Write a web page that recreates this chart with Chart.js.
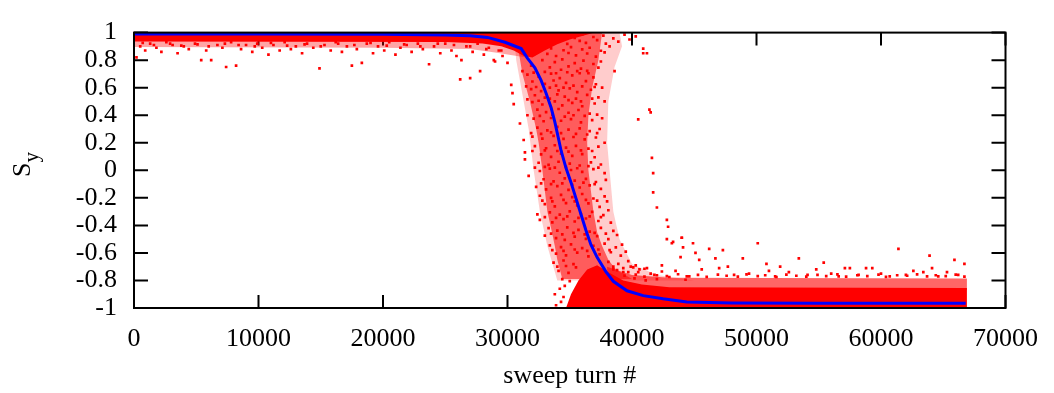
<!DOCTYPE html>
<html>
<head>
<meta charset="utf-8">
<script src="https://cdn.jsdelivr.net/npm/chart.js@4.4.0/dist/chart.umd.min.js"></script>
<style>
  html, body { margin: 0; padding: 0; background: #fff; }
</style>
</head>
<body>
<canvas id="sweepChart" width="1054" height="393"></canvas>
<script>
// --- Data (x values are in thousands of sweep turns) ---
const xTicks = [0, 10000, 20000, 30000, 40000, 50000, 60000, 70000];
const yTicks = [-1, -0.8, -0.6, -0.4, -0.2, 0, 0.2, 0.4, 0.6, 0.8, 1];

// averaged S_y (blue)
const meanX = [0, 10, 20, 25, 27, 28.4, 29.8, 31.1, 31.6, 32.2, 32.7, 33.1, 33.5, 33.8, 34.0, 34.3, 34.7,
    35.1, 35.5, 35.9, 36.3, 36.7, 37.2, 37.9, 38.5, 39.6, 40.9, 42.5, 44.4, 48, 55, 66.8];
const meanY = [0.99, 0.99, 0.988, 0.983, 0.977, 0.965, 0.93, 0.884, 0.815, 0.745, 0.653, 0.56, 0.456, 0.352, 0.27, 0.144, 0.016,
    -0.088, -0.204, -0.319, -0.435, -0.54, -0.632, -0.736, -0.806, -0.875, -0.91, -0.933, -0.956, -0.963, -0.965, -0.965];

// outlines of the regions where the red dots cover everything
const upperCore = [[0, 1], [37, 1], [36, 0.975], [35, 0.95], [34, 0.915], [33, 0.87], [32, 0.82], [31.3, 0.83],
    [30.5, 0.87], [29.5, 0.9], [28, 0.92], [25, 0.932], [0, 0.935]];
const lowerCore = [[34.7, -1], [35.1, -0.9], [35.7, -0.8], [36.4, -0.72], [37.2, -0.69], [38.1, -0.74], [39.3, -0.8],
    [40.8, -0.83], [43, -0.85], [66.9, -0.855], [66.9, -1]];

// outlines of the partly covered regions
const upperHaze = [[0, 0.94], [28, 0.94], [30, 0.9], [31.5, 0.82], [29, 0.855], [27, 0.88], [20, 0.89], [0, 0.895]];
const cloudOuter = [[30.6, 0.9], [33, 1], [39, 1], [39.2, 0.9], [38.6, 0.75], [38.1, 0.5], [38, 0.2], [38.2, 0],
    [38.5, -0.3], [39, -0.5], [40, -0.68], [42, -0.76], [45, -0.8], [34, -0.8], [33.2, -0.55], [32.6, -0.3],
    [32.1, 0], [31.7, 0.3], [31.2, 0.55], [30.7, 0.8]];
const cloudInner = [[30.9, 0.86], [33, 0.95], [35, 1], [37.6, 1], [37.3, 0.8], [36.8, 0.6], [36.5, 0.4], [36.4, 0.2],
    [36.5, 0], [36.7, -0.15], [36.9, -0.3], [37.2, -0.45], [37.6, -0.55], [38.1, -0.65], [38.7, -0.72], [40, -0.79],
    [34.4, -0.79], [34.0, -0.65], [33.8, -0.55], [33.5, -0.42], [33.2, -0.3], [33.0, -0.15], [32.8, 0], [32.5, 0.2],
    [32.3, 0.3], [32.0, 0.42], [31.8, 0.5], [31.5, 0.6], [31.2, 0.7]];
const lowerHaze = [[38, -0.7], [40, -0.76], [43, -0.78], [66.9, -0.785], [66.9, -0.87], [38, -0.87]];

// single S_y samples (red)
const upperDots = [[0.2, 0.82], [0.5, 0.9], [0.9, 0.87], [1.3, 0.92], [1.8, 0.89], [2.2, 0.86], [2.6, 0.93], [3.1, 0.91],
    [3.5, 0.85], [4.0, 0.9], [4.4, 0.88], [4.9, 0.92], [5.4, 0.8], [5.8, 0.87], [6.2, 0.8], [6.7, 0.91], [7.1, 0.89],
    [7.4, 0.75], [7.8, 0.93], [8.2, 0.76], [8.6, 0.88], [9.0, 0.91], [9.5, 0.86], [9.9, 0.92], [10.3, 0.89], [10.8, 0.84],
    [11.2, 0.91], [11.7, 0.87], [12.1, 0.93], [12.6, 0.88], [13.0, 0.9], [13.5, 0.85], [13.9, 0.92], [14.4, 0.89],
    [14.9, 0.74], [15.3, 0.91], [15.8, 0.87], [16.2, 0.93], [16.7, 0.86], [17.1, 0.9], [17.5, 0.76], [17.9, 0.88],
    [18.3, 0.78], [18.7, 0.92], [19.2, 0.85], [19.6, 0.9], [20.1, 0.87], [20.5, 0.93], [21.0, 0.84], [21.4, 0.89],
    [21.9, 0.91], [22.3, 0.86], [22.8, 0.92], [23.2, 0.88], [23.7, 0.77], [24.1, 0.9], [24.6, 0.85], [25.0, 0.92],
    [25.5, 0.87], [25.9, 0.83], [26.2, 0.66], [26.3, 0.8], [26.7, 0.9], [27.0, 0.67], [27.2, 0.86], [27.6, 0.92],
    [27.8, 0.72], [28.1, 0.84], [28.5, 0.89], [28.9, 0.8], [29.0, 0.79], [29.3, 0.87], [29.6, 0.83], [30.0, 0.78],
    [0.7, 0.925], [1.6, 0.91], [2.9, 0.92], [3.8, 0.905], [5.1, 0.915], [6.0, 0.9], [7.3, 0.92], [8.4, 0.91],
    [9.7, 0.9], [11.0, 0.925], [12.3, 0.905], [13.7, 0.915], [15.0, 0.9], [16.4, 0.92], [17.7, 0.91], [19.0, 0.925],
    [20.3, 0.905], [21.7, 0.915], [23.0, 0.9], [24.4, 0.92], [25.7, 0.91], [27.0, 0.9], [28.3, 0.88], [29.5, 0.87]];

const cloudDots = [
    [34.5, 0.975], [35.4, 0.962], [36.0, 0.985], [36.9, 0.968], [37.7, 0.978], [38.5, 0.958], [39.4, 0.985], [40.3, 0.972],
    [34.1, 0.935], [34.8, 0.918], [35.8, 0.94], [36.3, 0.925], [37.2, 0.945], [37.9, 0.92], [38.9, 0.935], [39.8, 0.95],
    [33.5, 0.885], [34.5, 0.872], [35.1, 0.895], [36.0, 0.878], [36.6, 0.89], [37.5, 0.868], [38.2, 0.9], [40.9, 0.884], [41.2, 0.85],
    [33.2, 0.845], [33.9, 0.83], [34.9, 0.852], [35.5, 0.835], [36.4, 0.848], [37.1, 0.826], [37.8, 0.856], [40.9, 0.85],
    [32.8, 0.8], [33.8, 0.785], [34.4, 0.805], [35.4, 0.778], [36.1, 0.796], [36.9, 0.772], [37.5, 0.79],
    [31.9, 0.76], [33.4, 0.748], [34.3, 0.73], [34.9, 0.755], [35.9, 0.738], [36.4, 0.722], [37.3, 0.745], [38.6, 0.72],
    [31.6, 0.695], [32.5, 0.68], [33.5, 0.702], [34.2, 0.67], [35.2, 0.69], [35.8, 0.705], [36.9, 0.675],
    [32.0, 0.645], [33.0, 0.628], [33.7, 0.652], [34.7, 0.635], [35.3, 0.615], [36.3, 0.648], [37.1, 0.625],
    [30.3, 0.62], [31.9, 0.59], [32.7, 0.575], [33.4, 0.6], [34.1, 0.58], [35.0, 0.595], [35.6, 0.568], [36.7, 0.585], [37.6, 0.6],
    [30.4, 0.56], [32.2, 0.545], [33.0, 0.528], [34.0, 0.552], [34.6, 0.535], [35.5, 0.52], [36.4, 0.548], [37.3, 0.53],
    [30.5, 0.48], [32.0, 0.495], [32.8, 0.478], [33.8, 0.5], [34.4, 0.472], [35.2, 0.49], [36.0, 0.465], [37.0, 0.485], [37.8, 0.5],
    [32.4, 0.44], [33.1, 0.422], [34.1, 0.445], [34.9, 0.418], [35.7, 0.438], [36.6, 0.412], [41.4, 0.44], [41.5, 0.42],
    [31.0, 0.34], [32.1, 0.375], [32.9, 0.356], [33.5, 0.38], [34.3, 0.36], [35.1, 0.372], [35.9, 0.348], [36.8, 0.365],
    [37.6, 0.378], [40.5, 0.37],
    [32.4, 0.31], [33.2, 0.29], [34.0, 0.315], [34.9, 0.295], [35.8, 0.305], [36.6, 0.285], [37.4, 0.3],
    [31.3, 0.22], [32.0, 0.245], [32.8, 0.23], [33.7, 0.25], [34.5, 0.228], [35.3, 0.242], [36.2, 0.225], [37.1, 0.238],
    [32.2, 0.175], [33.1, 0.16], [33.8, 0.182], [34.7, 0.165], [35.5, 0.178], [36.5, 0.158], [37.3, 0.172], [37.8, 0.2],
    [31.4, 0.13], [32.7, 0.115], [33.5, 0.098], [34.3, 0.12], [35.2, 0.105], [36.0, 0.118], [37.0, 0.095], [41.6, 0.09],
    [31.4, 0.08], [32.5, 0.055], [33.3, 0.04], [34.1, 0.062], [35.0, 0.048], [35.8, 0.035], [36.7, 0.058], [37.5, 0.042],
    [32.6, -0.005], [33.4, 0.012], [34.2, -0.018], [35.1, 0.002], [36.0, -0.012], [36.9, 0.008], [37.8, -0.02], [41.7, -0.02],
    [31.7, -0.04], [32.9, -0.065], [33.7, -0.08], [34.6, -0.058], [35.4, -0.075], [36.3, -0.062], [37.1, -0.085], [37.9, -0.07],
    [32.3, -0.12], [33.1, -0.138], [34.0, -0.115], [34.9, -0.142], [35.8, -0.125], [36.6, -0.11], [37.5, -0.135], [41.7, -0.16],
    [32.6, -0.185], [33.5, -0.2], [34.3, -0.178], [35.2, -0.195], [36.0, -0.172], [36.9, -0.205], [37.8, -0.19],
    [33.0, -0.245], [33.8, -0.262], [34.7, -0.238], [35.6, -0.255], [36.5, -0.24], [37.4, -0.265], [42.0, -0.27],
    [32.4, -0.32], [33.4, -0.305], [34.2, -0.322], [35.0, -0.298], [35.9, -0.318], [36.8, -0.302], [37.7, -0.325], [38.1, -0.29],
    [32.6, -0.36], [33.6, -0.378], [34.5, -0.355], [35.4, -0.372], [36.3, -0.35], [37.3, -0.368], [38.3, -0.38], [42.8, -0.36],
    [33.3, -0.42], [34.0, -0.438], [34.8, -0.415], [35.7, -0.432], [36.6, -0.445], [37.5, -0.418], [38.5, -0.44], [42.9, -0.41],
    [33.0, -0.475], [33.9, -0.492], [34.6, -0.505], [35.4, -0.482], [36.3, -0.498], [37.2, -0.478], [38.1, -0.5], [44.0, -0.49],
    [33.4, -0.545], [34.3, -0.558], [35.1, -0.538], [36.0, -0.565], [36.9, -0.548], [37.8, -0.532], [38.7, -0.56], [39.2, -0.54],
    [43.3, -0.52],
    [33.9, -0.605], [34.7, -0.618], [35.6, -0.598], [36.5, -0.625], [37.4, -0.61], [38.3, -0.595], [39.1, -0.62], [43.9, -0.63],
    [33.7, -0.67], [34.5, -0.655], [35.3, -0.682], [38.1, -0.665], [38.9, -0.68], [39.7, -0.66], [40.3, -0.69],
    [34.1, -0.73], [34.9, -0.745], [38.8, -0.725], [39.7, -0.74], [40.6, -0.72], [41.5, -0.75], [42.4, -0.735],
    [34.4, -0.79], [35.0, -0.805], [40.2, -0.785], [41.1, -0.8], [42.0, -0.79], [43.0, -0.775], [44.3, -0.795],
    [34.2, -0.86], [34.6, -0.84], [33.8, -0.9], [34.5, -0.92], [34.3, -0.955], [33.9, -0.98]];

const cloudDotsDense = [
    [31.2, 0.72], [32.1, 0.71], [33.0, 0.715], [33.9, 0.705], [34.8, 0.712], [35.6, 0.72], [36.5, 0.705],
    [31.5, 0.61], [32.3, 0.605], [33.9, 0.615], [34.5, 0.6], [36.0, 0.61], [37.0, 0.605],
    [31.6, 0.515], [32.5, 0.505], [33.4, 0.52], [34.9, 0.51], [35.9, 0.5], [36.8, 0.52],
    [31.6, 0.4], [32.6, 0.395], [33.6, 0.405], [34.6, 0.39], [35.3, 0.4], [36.2, 0.395], [37.2, 0.405],
    [31.9, 0.27], [32.7, 0.265], [33.5, 0.275], [34.3, 0.27], [35.5, 0.265], [36.4, 0.26], [37.2, 0.27],
    [32.0, 0.14], [33.0, 0.145], [34.0, 0.14], [34.9, 0.135], [35.9, 0.145], [36.8, 0.14],
    [32.2, 0.02], [33.0, 0.025], [33.8, 0.02], [34.7, 0.025], [35.6, 0.015], [36.5, 0.03], [37.3, 0.02],
    [32.7, -0.095], [33.5, -0.1], [34.4, -0.095], [35.2, -0.105], [36.1, -0.09], [37.0, -0.1],
    [32.8, -0.22], [33.6, -0.225], [34.5, -0.215], [35.4, -0.225], [36.3, -0.215], [37.2, -0.22], [38.0, -0.225],
    [33.0, -0.34], [33.9, -0.345], [34.8, -0.335], [35.7, -0.345], [36.6, -0.335], [37.5, -0.34],
    [33.5, -0.46], [34.4, -0.465], [35.3, -0.455], [36.2, -0.465], [37.0, -0.455], [37.9, -0.46], [38.8, -0.47],
    [33.6, -0.58], [34.5, -0.585], [35.4, -0.575], [36.4, -0.585], [37.3, -0.575], [38.2, -0.58], [39.5, -0.59],
    [34.0, -0.7], [34.7, -0.695], [35.5, -0.705], [38.5, -0.7], [39.3, -0.71], [40.1, -0.705], [41.0, -0.715]];

const lowerDots = [[40.5, -0.74], [41.2, -0.71], [41.8, -0.76], [42.4, -0.69], [42.8, -0.5], [43.2, -0.53], [43.5, -0.73],
    [44.0, -0.49], [44.1, -0.56], [44.6, -0.77], [44.9, -0.53], [45.1, -0.6], [45.4, -0.65], [45.6, -0.72], [46.2, -0.57],
    [46.7, -0.64], [47.0, -0.71], [47.3, -0.58], [47.7, -0.7], [48.2, -0.76], [48.9, -0.64], [49.4, -0.75], [50.1, -0.53],
    [50.8, -0.68], [51.0, -0.73], [51.5, -0.77], [51.9, -0.7], [52.6, -0.74], [53.4, -0.64], [54.1, -0.76], [54.8, -0.72],
    [55.4, -0.67], [56.0, -0.75], [56.6, -0.77], [57.1, -0.71], [57.5, -0.71], [58.2, -0.76], [58.8, -0.71], [59.3, -0.71],
    [60.0, -0.75], [60.7, -0.77], [61.4, -0.57], [62.0, -0.76], [62.6, -0.73], [63.4, -0.74], [63.9, -0.62], [64.1, -0.71],
    [64.6, -0.77], [65.3, -0.74], [65.9, -0.65], [66.2, -0.76], [66.7, -0.68],
    [39.4, -0.765], [40.3, -0.758], [41.0, -0.772], [42.0, -0.762], [42.8, -0.768], [43.7, -0.755], [44.4, -0.77],
    [45.3, -0.76], [46.0, -0.774], [46.9, -0.758], [47.6, -0.766], [48.5, -0.772], [49.2, -0.756], [50.1, -0.768],
    [50.7, -0.762], [51.6, -0.775], [52.4, -0.758], [53.2, -0.766], [54.0, -0.772], [54.9, -0.76], [55.6, -0.768],
    [56.5, -0.756], [57.2, -0.772], [58.1, -0.762], [58.9, -0.768], [59.8, -0.758], [60.4, -0.774], [61.3, -0.762],
    [62.1, -0.766], [62.9, -0.756], [63.7, -0.77], [64.4, -0.762], [65.2, -0.768], [66.0, -0.758], [66.7, -0.772],
    [38.5, -0.72], [39.3, -0.74], [39.9, -0.7]];

const RED = '#ff0000';
const BLUE = '#0000ff';
const toPoints = list => list.map(p => ({ x: p[0] * 1000, y: p[1] }));

const FONT = '"Liberation Serif", "Times New Roman", serif';
Chart.defaults.font.family = FONT;
Chart.defaults.font.size = 26;
Chart.defaults.color = '#000';

function region(list, color, order) {
    return {
        data: toPoints(list),
        borderWidth: 0,
        pointRadius: 0,
        backgroundColor: color,
        fill: 'shape',
        order: order
    };
}

function dots(list) {
    return {
        data: toPoints(list),
        showLine: false,
        pointStyle: 'rect',
        pointRadius: 1.9,
        pointBorderWidth: 0,
        pointBackgroundColor: RED,
        order: 2
    };
}

// frame with inward ticks on all four sides, plus the S_y label
const framePlugin = {
    id: 'frame',
    beforeDatasetsDraw(chart) {
        const { ctx, chartArea: a, scales: { x, y } } = chart;
        ctx.save();
        ctx.strokeStyle = '#000';
        ctx.lineWidth = 2;
        ctx.beginPath();
        xTicks.forEach(v => {
            const px = x.getPixelForValue(v);
            ctx.moveTo(px, a.bottom); ctx.lineTo(px, a.bottom - 13);
            ctx.moveTo(px, a.top); ctx.lineTo(px, a.top + 13);
        });
        yTicks.forEach(v => {
            const py = y.getPixelForValue(v);
            ctx.moveTo(a.left, py); ctx.lineTo(a.left + 14, py);
            ctx.moveTo(a.right, py); ctx.lineTo(a.right - 14, py);
        });
        ctx.stroke();
        ctx.restore();
    },
    afterDraw(chart) {
        const { ctx, chartArea: a } = chart;
        ctx.save();
        ctx.strokeStyle = '#000';
        ctx.lineWidth = 2;
        ctx.strokeRect(a.left, a.top, a.right - a.left, a.bottom - a.top);

        ctx.fillStyle = '#000';
        ctx.translate(30, 177);
        ctx.rotate(-Math.PI / 2);
        ctx.textBaseline = 'alphabetic';
        ctx.font = '26px ' + FONT;
        ctx.fillText('S', 0, 0);
        const w = ctx.measureText('S').width;
        ctx.font = '21px ' + FONT;
        ctx.fillText('y', w, 8);
        ctx.restore();
    }
};

new Chart(document.getElementById('sweepChart'), {
    type: 'line',
    data: {
        datasets: [
            {
                data: meanX.map((v, i) => ({ x: v * 1000, y: meanY[i] })),
                borderColor: BLUE,
                borderWidth: 3,
                pointRadius: 0,
                fill: false,
                order: 1
            },
            dots(upperDots),
            dots(cloudDots),
            dots(cloudDotsDense),
            dots(lowerDots),
            region(upperCore, RED, 3),
            region(lowerCore, RED, 3),
            region(cloudInner, 'rgba(255,0,0,0.55)', 4),
            region(upperHaze, 'rgba(255,0,0,0.35)', 5),
            region(cloudOuter, 'rgba(255,0,0,0.2)', 5),
            region(lowerHaze, 'rgba(255,0,0,0.6)', 5)
        ]
    },
    options: {
        responsive: false,
        animation: false,
        layout: { padding: { left: 0, right: 42, top: 20, bottom: 0 } },
        plugins: { legend: { display: false }, tooltip: { enabled: false } },
        scales: {
            x: {
                type: 'linear',
                min: 0,
                max: 70000,
                afterFit: s => { s.height = 85; },
                afterBuildTicks: s => { s.ticks = xTicks.map(v => ({ value: v })); },
                grid: { display: false, drawTicks: false },
                border: { display: false },
                ticks: { padding: 16, maxRotation: 0, autoSkip: false, callback: v => String(v) },
                title: { display: true, text: 'sweep turn #', padding: { top: 0, bottom: 1 } }
            },
            y: {
                min: -1,
                max: 1,
                afterFit: s => { s.width = 134; },
                afterBuildTicks: s => { s.ticks = yTicks.map(v => ({ value: v })); },
                grid: { display: false, drawTicks: false },
                border: { display: false },
                ticks: { padding: 17, autoSkip: false, callback: v => String(Math.round(v * 10) / 10) }
            }
        }
    },
    plugins: [framePlugin]
});
</script>
</body>
</html>
